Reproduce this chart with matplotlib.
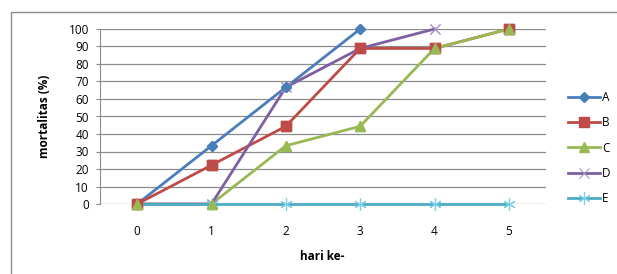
import matplotlib.pyplot as plt
from matplotlib.patches import Rectangle

# data
days = [0, 1, 2, 3, 4, 5]
day_labels = ["0", "1", "2", "3", "4", "5"]

a_days = [0, 1, 2, 3]
a_vals = [0, 33.3, 66.7, 100]

b_days = [0, 1, 2, 3, 4, 5]
b_vals = [0, 22.2, 44.4, 88.9, 88.9, 100]

c_days = [0, 1, 2, 3, 4, 5]
c_vals = [0, 0, 33.3, 44.4, 88.9, 100]

d_days = [0, 1, 2, 3, 4]
d_vals = [0, 0, 66.7, 88.9, 100]

e_days = [0, 1, 2, 3, 4, 5]
e_vals = [0, 0, 0, 0, 0, 0]

plt.rcParams['font.family'] = ['Open Sans', 'DejaVu Sans']
plt.rcParams['font.size'] = 8.5

fig = plt.figure(figsize=(6.17, 2.74), dpi=100)

# outer chart border (runs off the right/bottom edge like the screenshot)
fig.patches.append(Rectangle((11 / 617, -0.1), 1.0, 1 - 12 / 274 + 0.1,
                             transform=fig.transFigure, fill=False,
                             edgecolor="#8c8c8c", linewidth=1.0))

ax = fig.add_axes([100 / 617, 1 - 204 / 274, 446 / 617, 175 / 274])

# (x, y, label, colour, marker style) -- lines first, markers on top (Excel-like)
series = [
    (a_days, a_vals, "A", "#4A7EBB", dict(marker="D", ms=5.5), 12),
    (b_days, b_vals, "B", "#BE4B48", dict(marker="s", ms=7), 13),
    (c_days, c_vals, "C", "#98B954", dict(marker="^", ms=7), 14),
    (d_days, d_vals, "D", "#7D60A0", dict(marker="x", ms=7, mew=0.8, mec="#A794C4"), 11),
    (e_days, e_vals, "E", "#4BACC6", dict(marker=(6, 2, 0), ms=9, mew=0.8, mec="#7fd0e6"), 10),
]

lw = 2.0
for i, (x, y, lab, col, mk, mz) in enumerate(series):
    ax.plot(x, y, color=col, lw=lw, label=lab, zorder=3 + 0.1 * i,
            clip_on=False, **mk)
    ax.plot(x, y, color=col, ls="none", zorder=mz, clip_on=False, **mk)

ax.set_xlim(-0.5, 5.5)
ax.set_ylim(0, 100)
ax.set_yticks(range(0, 101, 10))
ax.set_xticks(days)
ax.set_xticklabels(day_labels)

ax.grid(axis="y", color="#8c8c8c", linewidth=0.9)
ax.set_axisbelow(True)
for side in ["top", "right", "bottom"]:
    ax.spines[side].set_visible(False)
ax.spines["left"].set_color("#8c8c8c")
ax.tick_params(axis="y", length=3, color="#8c8c8c", pad=5)
ax.tick_params(axis="x", length=0, pad=15)

fig.text(45 / 617, 1 - 116 / 274, "mortalitas (%)", rotation=90,
         ha="center", va="center", fontweight="bold")
fig.text(322 / 617, 1 - 256 / 274, "hari ke-", ha="center", va="center",
         fontweight="bold")

handles, labels = ax.get_legend_handles_labels()
fig.legend(handles, labels, loc="center left",
           bbox_to_anchor=(568 / 617, 1 - 148 / 274),
           frameon=False, handlelength=2.7, handletextpad=0.2,
           labelspacing=1.05, borderpad=0, borderaxespad=0)

fig.savefig("out.png", dpi=100)
